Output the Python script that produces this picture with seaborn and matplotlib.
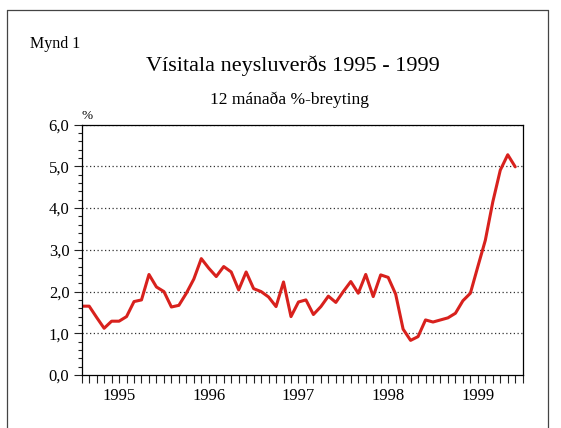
import matplotlib
matplotlib.use("Agg")
import matplotlib.pyplot as plt
from matplotlib.lines import Line2D
from matplotlib.ticker import FixedLocator, MultipleLocator, FuncFormatter
import numpy as np
import pandas as pd
import seaborn as sns

# 12 month % change, monthly Jan 1995 - Nov 1999
pct_change = [
    1.65, 1.65, 1.38, 1.12, 1.29, 1.29, 1.40, 1.76, 1.80, 2.41, 2.11, 2.00,
    1.63, 1.67, 1.96, 2.30, 2.79, 2.56, 2.36, 2.60, 2.47, 2.04, 2.47, 2.07,
    2.00, 1.87, 1.64, 2.23, 1.40, 1.75, 1.80, 1.45, 1.64, 1.89, 1.74, 2.00,
    2.24, 1.96, 2.41, 1.88, 2.40, 2.34, 1.94, 1.10, 0.83, 0.92, 1.32, 1.27,
    1.32, 1.37, 1.48, 1.78, 1.96, 2.60, 3.23, 4.15, 4.91, 5.28, 4.99,
]
years = ["1995", "1996", "1997", "1998", "1999"]
y_ticks = [0, 1, 2, 3, 4, 5, 6]

TITLE = "Vísitala neysluverðs 1995 - 1999"
SUBTITLE = "12 mánaða %-breyting"
FIG_LABEL = "Mynd 1"
LINE_COLOR = "#d8211d"

df = pd.DataFrame({"month": np.arange(len(pct_change)), "value": pct_change})

sns.set_style("white")
plt.rcParams["font.family"] = ["Liberation Serif", "DejaVu Serif"]
for key in ["text.color", "axes.labelcolor", "xtick.color", "ytick.color"]:
    plt.rcParams[key] = "black"

W, H = 561, 428
fig = plt.figure(figsize=(W / 100, H / 100), dpi=100)
ax = fig.add_axes([81.7 / W, 1 - 375 / H, (522.7 - 81.7) / W, (375 - 124.7) / H])

sns.lineplot(data=df, x="month", y="value", color=LINE_COLOR, linewidth=2.2, ax=ax)

ax.set_xlim(0, len(pct_change))
ax.set_ylim(y_ticks[0], y_ticks[-1])
ax.set_xlabel("")
ax.set_ylabel("")

# monthly ticks, year labels centred under each year
ax.xaxis.remove_overlapping_locs = False
ax.xaxis.set_major_locator(MultipleLocator(1))
ax.xaxis.set_major_formatter(FuncFormatter(lambda v, p: ""))
ax.xaxis.set_minor_locator(FixedLocator([5 + 12 * i for i in range(len(years))]))
ax.xaxis.set_minor_formatter(FuncFormatter(lambda v, p: years[int(round(v)) // 12]))
ax.tick_params(axis="x", which="major", direction="out", length=5.8, width=0.8, color="#222222", bottom=True)
ax.tick_params(axis="x", which="minor", length=0, pad=9, labelsize=12, bottom=True, labelbottom=True)

ax.yaxis.set_major_locator(FixedLocator(y_ticks))
ax.yaxis.set_minor_locator(MultipleLocator(0.2))
ax.yaxis.set_major_formatter(FuncFormatter(lambda v, p: f"{v:.1f}".replace(".", ",")))
ax.tick_params(axis="y", which="major", direction="out", length=5.8, width=0.8, color="#222222", left=True, labelsize=12, pad=3)
ax.tick_params(axis="y", which="minor", direction="out", length=3, width=0.8, color="#222222", left=True)

for v in y_ticks[1:]:
    ax.axhline(v, color="#333333", linewidth=0.9, linestyle=(0, (1, 2)), zorder=0)

for side in ["left", "right", "top", "bottom"]:
    ax.spines[side].set_visible(True)
    ax.spines[side].set_color("black")
    ax.spines[side].set_linewidth(0.9)

ax.text(0.0, 1.012, "%", transform=ax.transAxes, ha="left", va="bottom", fontsize=9.5)

fig.text(30 / W, 1 - 44 / H, FIG_LABEL, ha="left", va="center", fontsize=11.5)
fig.text(293 / W, 1 - 66 / H, TITLE, ha="center", va="center", fontsize=16)
fig.text(290 / W, 1 - 100 / H, SUBTITLE, ha="center", va="center", fontsize=12.5)

# outer frame
frame_kw = dict(color="#444444", linewidth=0.9, transform=fig.transFigure)
fig.add_artist(Line2D([7 / W, 548 / W], [1 - 10 / H, 1 - 10 / H], **frame_kw))
fig.add_artist(Line2D([7 / W, 7 / W], [1 - 10 / H, 0], **frame_kw))
fig.add_artist(Line2D([548 / W, 548 / W], [1 - 10 / H, 0], **frame_kw))

fig.savefig("out.png", dpi=100)
